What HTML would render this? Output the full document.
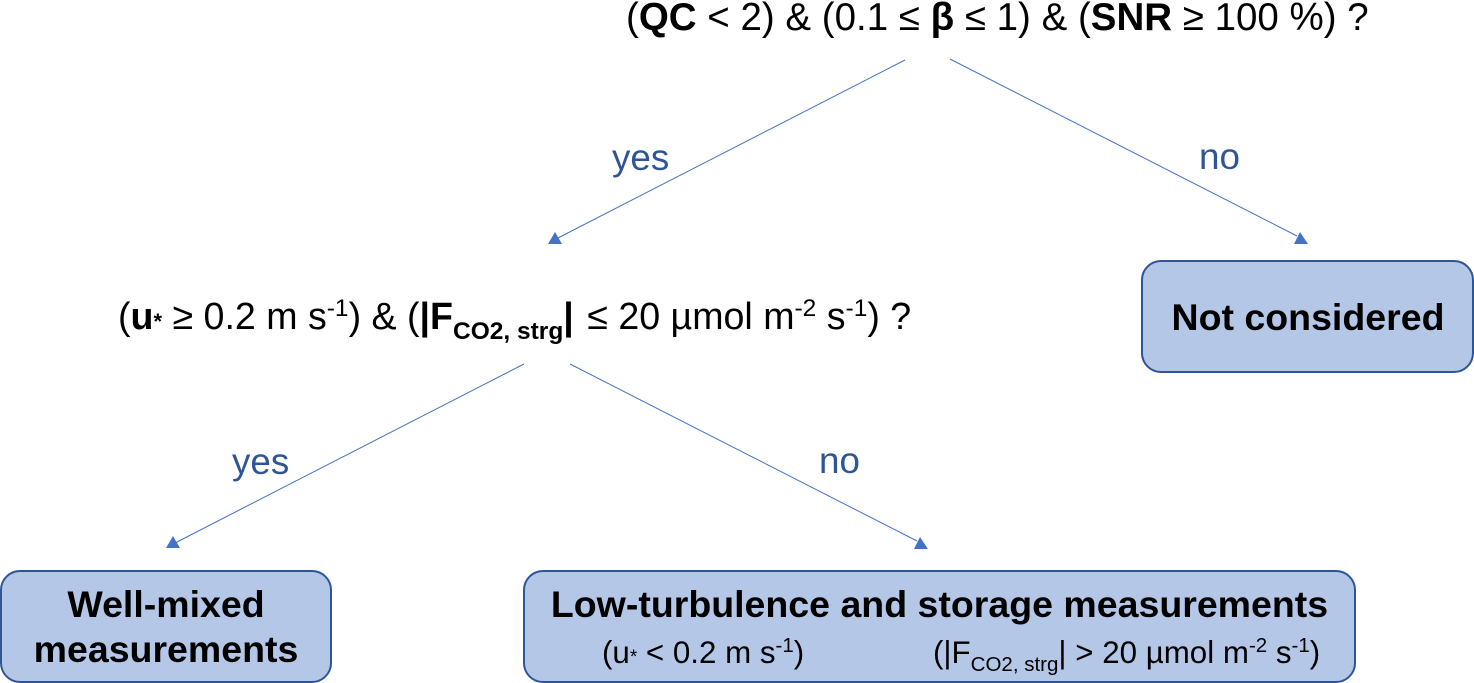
<!DOCTYPE html>
<html>
<head>
<meta charset="utf-8">
<style>
html,body{margin:0;padding:0;background:#fff;width:1474px;height:683px;overflow:hidden}
svg{display:block}
text{font-family:"Liberation Sans",sans-serif;fill:#000;white-space:pre}
.b{font-weight:bold}
.l{fill:#2f5597;font-size:36.8px}
</style>
</head>
<body>
<svg width="1474" height="683" viewBox="0 0 1474 683" xmlns="http://www.w3.org/2000/svg">
  <!-- connectors -->
  <g stroke="#4472c4" stroke-width="1" fill="none">
    <line x1="905" y1="60" x2="556" y2="239"/>
    <line x1="950" y1="59" x2="1297" y2="236"/>
    <line x1="524" y1="364" x2="175" y2="543"/>
    <line x1="570" y1="364" x2="917" y2="541"/>
  </g>
  <g fill="#4472c4">
    <polygon points="548,244 562,244 555,232"/>
    <polygon points="1294,244 1308,244 1300,232"/>
    <polygon points="166,548 180,548 173,536"/>
    <polygon points="914,549 928,549 920,537"/>
  </g>

  <!-- boxes -->
  <g fill="#b4c7e7" stroke="#2f5597" stroke-width="2">
    <rect x="1142" y="261" width="331" height="111" rx="19"/>
    <rect x="1" y="571" width="330" height="111" rx="19"/>
    <rect x="524" y="571" width="831" height="111" rx="19"/>
  </g>

  <!-- top condition -->
  <text x="626" y="30" font-size="38.5">(<tspan class="b">QC</tspan> &lt; 2) &amp; (0.1 ≤ <tspan class="b">β</tspan> ≤ 1) &amp; (<tspan class="b">SNR</tspan> ≥ 100 %) ?</text>

  <!-- labels -->
  <text class="l" x="612" y="170">yes</text>
  <text class="l" x="1199" y="169">no</text>
  <text class="l" x="232" y="474">yes</text>
  <text class="l" x="819" y="473">no</text>

  <!-- second condition -->
  <text x="118" y="329" font-size="37.6">(<tspan class="b">u</tspan><tspan class="b" font-size="22">*</tspan> ≥ 0.2 m s<tspan font-size="24.5" dy="-13">-1</tspan><tspan dy="13">) &amp; (</tspan><tspan class="b">|F</tspan><tspan class="b" font-size="24.5" dy="10">CO2, strg</tspan><tspan class="b" dy="-10">|</tspan><tspan dx="3"> ≤ 20 µmol m</tspan><tspan font-size="24.5" dy="-13">-2</tspan><tspan dy="13"> s</tspan><tspan font-size="24.5" dy="-13">-1</tspan><tspan dy="13">) ?</tspan></text>

  <!-- box text -->
  <text class="b" x="1308" y="330" font-size="37.5" text-anchor="middle">Not considered</text>
  <text class="b" x="166" y="617" font-size="37.5" text-anchor="middle">Well-mixed</text>
  <text class="b" x="166" y="662" font-size="37.5" text-anchor="middle">measurements</text>
  <text class="b" x="939.5" y="617" font-size="37.5" text-anchor="middle">Low-turbulence and storage measurements</text>
  <text x="602" y="663" font-size="31.3">(u<tspan font-size="19">*</tspan> &lt; 0.2 m s<tspan font-size="20.5" dy="-11">-1</tspan><tspan dy="11">)</tspan></text>
  <text x="933" y="663" font-size="31.3">(|F<tspan font-size="20.5" dy="8">CO2, strg</tspan><tspan dy="-8">|</tspan> &gt; 20 µmol m<tspan font-size="20.5" dy="-11">-2</tspan><tspan dy="11"> s</tspan><tspan font-size="20.5" dy="-11">-1</tspan><tspan dy="11">)</tspan></text>
</svg>
</body>
</html>
